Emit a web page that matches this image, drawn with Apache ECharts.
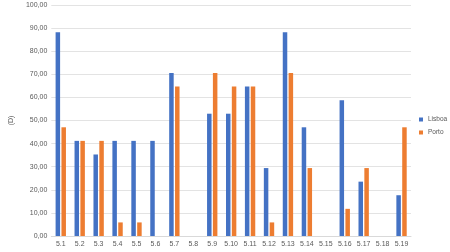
<!DOCTYPE html>
<html>
<head>
<meta charset="utf-8">
<script src="https://cdn.jsdelivr.net/npm/echarts@6/dist/echarts.min.js"></script>
<style>
  html, body { margin: 0; padding: 0; background: #fff; }
  #chart { width: 450px; height: 252px; }
</style>
</head>
<body>
<div id="chart"></div>
<script>
const categories = ['5.1', '5.2', '5.3', '5.4', '5.5', '5.6', '5.7', '5.8', '5.9', '5.10',
    '5.11', '5.12', '5.13', '5.14', '5.15', '5.16', '5.17', '5.18', '5.19'];
const lisboa = [88.24, 41.18, 35.29, 41.18, 41.18, 41.18, 70.59, 0, 52.94, 52.94,
    64.71, 29.41, 88.24, 47.06, 0, 58.82, 23.53, 0, 17.65];
const porto = [47.06, 41.18, 41.18, 5.88, 5.88, 0, 64.71, 0, 70.59, 64.71,
    64.71, 5.88, 70.59, 29.41, 0, 11.76, 29.41, 0, 47.06];
const yTicks = { min: 0, max: 100, interval: 10 };

const chart = echarts.init(document.getElementById('chart'));
chart.setOption({
    animation: false,
    textStyle: { fontFamily: 'Liberation Sans' },
    grid: { left: 38, right: 39, top: 5, bottom: 16, containLabel: false },
    legend: {
        orient: 'vertical',
        left: 419,
        top: 116,
        padding: 0,
        itemWidth: 4,
        itemHeight: 4,
        itemGap: 6,
        icon: 'rect',
        textStyle: { fontSize: 6.5, color: '#595959' },
        data: ['Lisboa', 'Porto'],
    },
    xAxis: {
        type: 'category',
        data: categories,
        axisLine: { lineStyle: { color: '#d9d9d9' } },
        axisTick: { show: false },
        axisLabel: { fontSize: 7, color: '#595959', margin: 5, interval: 0 },
    },
    yAxis: {
        type: 'value',
        min: yTicks.min,
        max: yTicks.max,
        interval: yTicks.interval,
        name: '(D)',
        nameLocation: 'middle',
        nameGap: 32,
        nameTextStyle: { fontSize: 7, color: '#595959' },
        axisLabel: {
            fontSize: 7,
            color: '#595959',
            margin: 4,
            formatter: v => v.toFixed(2).replace('.', ','),
        },
        splitLine: { lineStyle: { color: '#e3e3e3' } },
    },
    series: [
        {
            name: 'Lisboa',
            type: 'bar',
            data: lisboa,
            barWidth: 4.5,
            barGap: '30%',
            itemStyle: { color: '#4472C4' },
        },
        {
            name: 'Porto',
            type: 'bar',
            data: porto,
            barWidth: 4.5,
            itemStyle: { color: '#ED7D31' },
        },
    ],
});
</script>
</body>
</html>
